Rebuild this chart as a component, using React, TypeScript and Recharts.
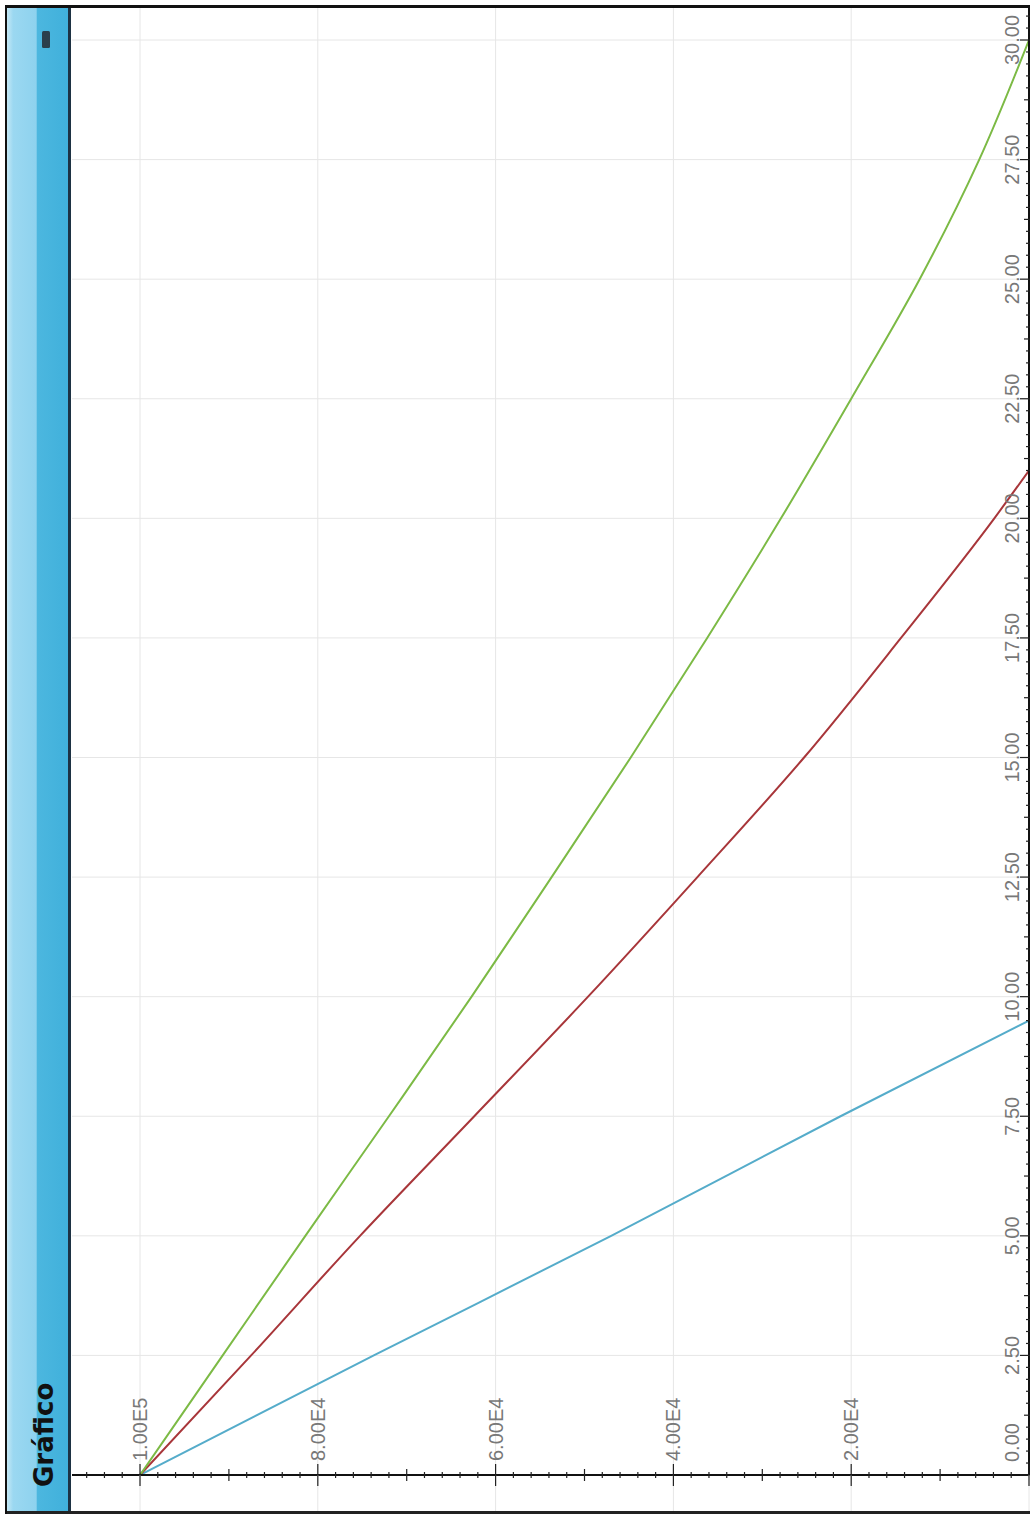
import React from 'react';
import { LineChart, Line, XAxis, YAxis, CartesianGrid } from 'recharts';

// ---- data (years -> outstanding balance) ----
const greenYears = [0, 2.5, 5, 7.5, 10, 12.5, 15, 17.5, 20, 22.5, 25, 27.5, 30];
const greenValues = [100000, 90700, 81400, 72000, 62700, 53700, 44800, 36200, 27900, 20000, 12300, 5600, 0];

const redYears = [0, 2.5, 5, 7.5, 10, 12.5, 15, 17.5, 20, 21];
const redValues = [100000, 87500, 75250, 62400, 49600, 37300, 25300, 14400, 3900, 0];

const blueYears = [0, 2.5, 5, 7.5, 9.5];
const blueValues = [100000, 73700, 47000, 21200, 0];

// ---- axis ticks / labels ----
const xLabelTicks = [0, 2.5, 5, 7.5, 10, 12.5, 15, 17.5, 20, 22.5, 25, 27.5, 30];
const xMinorTicks = Array.from({ length: 123 }, (_, i) => i * 0.25);
const yLabelTicks = [20000, 40000, 60000, 80000, 100000];
const yTickLabels = ['2.00E4', '4.00E4', '6.00E4', '8.00E4', '1.00E5'];
const yGridValues = [0, 20000, 40000, 60000, 80000, 100000];
const yMinorTicks = Array.from({ length: 54 }, (_, i) => i * 2000);

const X_MAX = 30.69;
const Y_MAX = 107650;

const greenData = greenYears.map((t, i) => ({ t, v: greenValues[i] }));
const redData = redYears.map((t, i) => ({ t, v: redValues[i] }));
const blueData = blueYears.map((t, i) => ({ t, v: blueValues[i] }));

const LABEL_FONT = "'Liberation Sans', Arial, sans-serif";
const LABEL_COLOR = '#787878';
const GRID = '#e6e6e6';

const XTick = (props: any) => {
  const { x, y, payload } = props;
  const v = payload.value as number;
  const idx = Math.round(v / 0.25);
  const major = idx % 10 === 0;
  const mid = idx % 5 === 0;
  const len = major ? 9 : mid ? 5 : 3;
  return (
    <g>
      <line x1={x} x2={x} y1={y - len} y2={y + len} stroke="#222" strokeWidth={1.2} />
      {major && (
        <text
          x={v === 0 ? x + 13 : x}
          y={y - 10}
          textAnchor={v === 0 ? 'start' : 'middle'}
          fontFamily={LABEL_FONT}
          fontSize={20}
          fill={LABEL_COLOR}
        >
          {v.toFixed(2)}
        </text>
      )}
    </g>
  );
};

const YTick = (props: any) => {
  const { x, y, payload } = props;
  const v = payload.value as number;
  const li = yLabelTicks.indexOf(v);
  const major = v % 20000 === 0;
  const mid = v % 10000 === 0;
  const len = major ? 11 : mid ? 6 : 3;
  return (
    <g>
      {major && <line x1={x - 40} x2={x} y1={y} y2={y} stroke={GRID} strokeWidth={1} />}
      <line x1={x - len} x2={x + len} y1={y} y2={y} stroke="#222" strokeWidth={1.2} />
      {li >= 0 && (
        <text x={x + 14} y={y + 7} textAnchor="start" fontFamily={LABEL_FONT} fontSize={20} fill={LABEL_COLOR}>
          {yTickLabels[li]}
        </text>
      )}
    </g>
  );
};

export default function App() {
  return (
    <div style={{ position: 'absolute', left: 0, top: 0, width: 1030, height: 1514, overflow: 'hidden', background: '#fff' }}>
      <div
        style={{
          position: 'absolute',
          left: 0,
          top: 0,
          width: 1514,
          height: 1040,
          transformOrigin: '0 0',
          transform: 'translate(0px, 1514px) rotate(-90deg)',
          background: '#fff',
        }}
      >
        <div style={{ position: 'absolute', left: 0, top: 0 }}>
          <LineChart width={1514} height={1040} margin={{ top: 72, right: 7, bottom: 10, left: 38 }}>
            <CartesianGrid
              stroke={GRID}
              strokeWidth={1}
              horizontalValues={yGridValues}
              verticalValues={xLabelTicks}
            />
            <XAxis
              type="number"
              dataKey="t"
              domain={[0, X_MAX]}
              ticks={xMinorTicks}
              interval={0}
              tick={<XTick />}
              tickLine={false}
              tickSize={0}
              tickMargin={0}
              height={1}
              axisLine={{ stroke: '#111', strokeWidth: 2 }}
              allowDataOverflow
            />
            <YAxis
              type="number"
              domain={[0, Y_MAX]}
              ticks={yMinorTicks}
              interval={0}
              tick={<YTick />}
              tickLine={false}
              tickSize={0}
              tickMargin={0}
              width={1}
              axisLine={{ stroke: '#111', strokeWidth: 2 }}
              allowDataOverflow
            />
            <Line data={blueData} dataKey="v" type="monotone" stroke="#55acca" strokeWidth={2} dot={false} isAnimationActive={false} />
            <Line data={redData} dataKey="v" type="monotone" stroke="#a8363a" strokeWidth={2} dot={false} isAnimationActive={false} />
            <Line data={greenData} dataKey="v" type="monotone" stroke="#7cba45" strokeWidth={2} dot={false} isAnimationActive={false} />
          </LineChart>
        </div>
        <svg
          width={1514}
          height={1040}
          style={{ position: 'absolute', left: 0, top: 0, pointerEvents: 'none' }}
        >
          <defs>
            <linearGradient id="titleGrad" x1="0" y1="7" x2="0" y2="69" gradientUnits="userSpaceOnUse">
              <stop offset="0" stopColor="#c4e8f6" />
              <stop offset="0.1" stopColor="#9bd8f1" />
              <stop offset="0.47" stopColor="#8ed2ee" />
              <stop offset="0.49" stopColor="#4cb7df" />
              <stop offset="1" stopColor="#40b0db" />
            </linearGradient>
          </defs>
          <rect x={2} y={6} width={1505} height={63} fill="url(#titleGrad)" />
          <line x1={2} x2={1507} y1={69.5} y2={69.5} stroke="#1d3243" strokeWidth={3} />
          <text x={27} y={53} fontFamily="'DejaVu Sans', Verdana, sans-serif" fontWeight="bold" fontSize={26} fill="#111">
            Gráfico
          </text>
          <rect x={1466} y={42} width={17} height={8} rx={1.5} fill="#2b3f4c" />
          {/* frame */}
          <line x1={1.5} x2={1.5} y1={5} y2={1040} stroke="#222" strokeWidth={3} />
          <line x1={0} x2={1509} y1={6} y2={6} stroke="#111" strokeWidth={2} />
          <line x1={1507.5} x2={1507.5} y1={5} y2={1040} stroke="#111" strokeWidth={3} />
        </svg>
      </div>
    </div>
  );
}
